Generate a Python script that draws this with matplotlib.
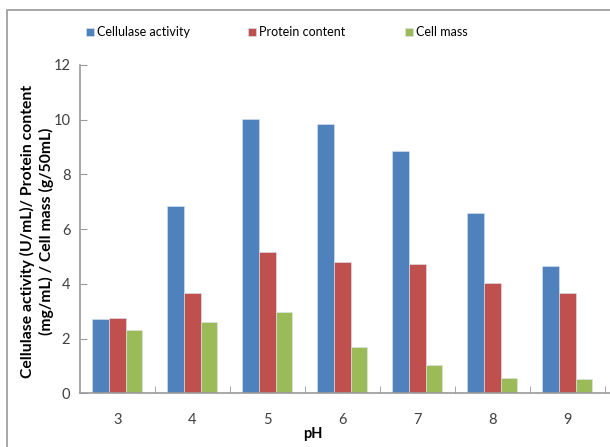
import numpy as np
import matplotlib.pyplot as plt
from matplotlib.patches import Rectangle

plt.rcParams['font.family'] = ['Lato', 'DejaVu Sans']

ph = ['3', '4', '5', '6', '7', '8', '9']
cellulase = [2.70, 6.85, 10.02, 9.84, 8.87, 6.58, 4.65]
protein = [2.75, 3.65, 5.18, 4.80, 4.74, 4.02, 3.65]
cell_mass = [2.31, 2.61, 2.97, 1.69, 1.03, 0.56, 0.51]

series = [('Cellulase activity', cellulase, '#4F81BD'),
          ('Protein content', protein, '#C0504D'),
          ('Cell mass', cell_mass, '#9BBB59')]

fig = plt.figure(figsize=(6.1, 4.47), dpi=100)
ax = fig.add_axes([80/610, 1-393.3/447, 530/610, (393.3-65)/447])

x = np.arange(len(ph))
w = 1/4.5
bars = []
for i, (name, vals, col) in enumerate(series):
    b = ax.bar(x + (i-1)*w, vals, w, color=col, label=name,
               edgecolor='#dbe6f3', linewidth=0.4)
    bars.append(b)

ax.set_xlim(-0.5, 6.57)
ax.set_ylim(0, 12)
ax.set_yticks(range(0, 13, 2))
ax.set_xticks(x)
ax.set_xticklabels(ph)
ax.set_xticks(np.arange(0.5, 7, 1), minor=True)
ax.tick_params(axis='x', which='major', length=0, pad=14, labelsize=10.5, colors='#404040')
ax.tick_params(axis='x', which='minor', direction='in', length=5, color='#9a9a9a')
ax.tick_params(axis='y', direction='in', length=5, color='#9a9a9a', pad=7,
               labelsize=10.5, labelcolor='#404040')
for s in ['top', 'right']:
    ax.spines[s].set_visible(False)
for s in ['left', 'bottom']:
    ax.spines[s].set_color('#9a9a9a')
    ax.spines[s].set_linewidth(1.2)

fig.text(313/610, 1-434/447, 'pH', ha='center', va='center', fontsize=10.5, fontweight='bold')
fig.text(37/610, 1-231/447, 'Cellulase activity (U/mL)/ Protein content\n(mg/mL) / Cell mass (g/50mL)',
         rotation=90, ha='center', va='center', fontsize=11.3, fontweight='bold',
         linespacing=1.25)

# one legend entry per series, spread across the top
for b, (name, _, _), lx in zip(bars, series, [86, 248, 405]):
    leg = fig.legend([b], [name], loc='center left', bbox_to_anchor=(lx/610, 1-32/447),
                     frameon=False, handlelength=0.6, handleheight=0.6, handletextpad=0.3,
                     fontsize=9, borderaxespad=0, borderpad=0)

# outer frame
fig.patches.append(Rectangle((7/610, -0.1), 1.2, 1.1 - 10/447, transform=fig.transFigure,
                             fill=False, edgecolor='#a0a0a0', linewidth=1.3))

fig.savefig('out.png', dpi=100)
